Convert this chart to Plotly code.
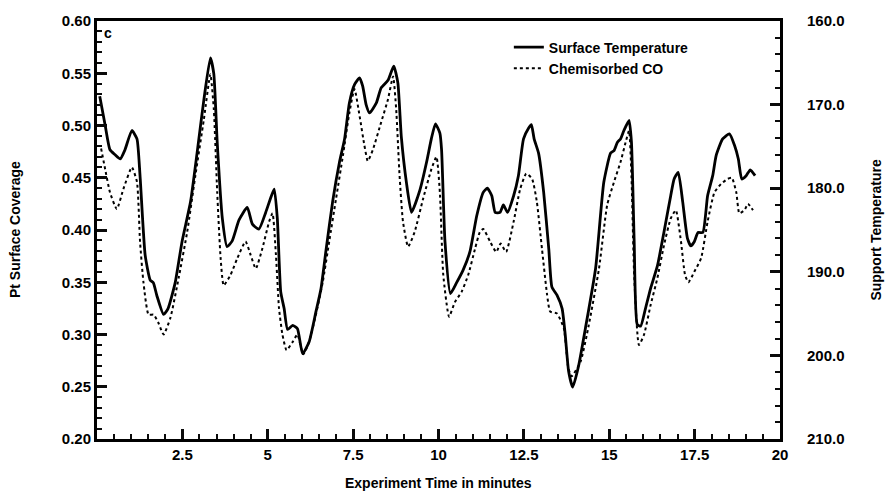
import plotly.graph_objects as go

# Time (minutes) for the surface temperature trace (solid, right axis)
t_temp = [0.08, 0.24, 0.38, 0.53, 0.68, 0.82, 1.02, 1.17, 1.26, 1.41, 1.56, 1.65, 1.75, 1.95, 2.08,
          2.29, 2.49, 2.74, 2.93, 3.13, 3.32, 3.42, 3.52, 3.67, 3.81, 3.96, 4.16, 4.40, 4.55, 4.74,
          4.94, 5.09, 5.19, 5.28, 5.38, 5.48, 5.58, 5.73, 5.87, 6.02, 6.21, 6.41, 6.56, 6.71, 6.90,
          7.10, 7.25, 7.39, 7.54, 7.69, 7.78, 7.88, 7.98, 8.18, 8.32, 8.52, 8.69, 8.81, 8.91, 9.06,
          9.21, 9.45, 9.65, 9.79, 9.91, 10.04, 10.09, 10.19, 10.35, 10.53, 10.72, 10.92, 11.12, 11.31,
          11.43, 11.56, 11.66, 11.80, 11.90, 12.02, 12.20, 12.34, 12.49, 12.64, 12.72, 12.80, 12.93,
          13.08, 13.23, 13.32, 13.47, 13.62, 13.71, 13.81, 13.93, 14.10, 14.30, 14.60, 14.84, 15.04,
          15.14, 15.24, 15.33, 15.43, 15.58, 15.65, 15.73, 15.82, 15.92, 16.06, 16.21, 16.41, 16.60,
          16.80, 16.90, 17.02, 17.15, 17.29, 17.39, 17.49, 17.60, 17.74, 17.88, 18.03, 18.13, 18.32,
          18.52, 18.67, 18.78, 18.88, 19.01, 19.13, 19.27]
surface_temperature = [169.0, 172.5, 175.4, 176.0, 176.5, 175.4, 173.1, 174.1, 178.5, 188.0, 191.0,
                       191.3, 192.8, 195.1, 194.4, 191.3, 186.4, 181.6, 175.8, 169.4, 164.4, 166.3,
                       174.5, 183.6, 187.0, 186.3, 183.8, 182.3, 184.3, 184.9, 182.9, 181.1, 180.1,
                       183.6, 192.4, 194.4, 196.9, 196.4, 196.8, 199.8, 198.4, 194.8, 192.0, 187.3,
                       181.6, 176.9, 174.1, 169.8, 167.6, 166.8, 167.8, 170.0, 171.0, 169.8, 168.0,
                       167.1, 165.4, 167.4, 173.8, 179.3, 182.9, 180.3, 176.9, 174.1, 172.3, 173.4,
                       175.4, 186.4, 192.6, 191.3, 189.8, 187.6, 183.3, 180.5, 180.0, 180.9, 182.9,
                       182.9, 182.0, 182.9, 180.9, 178.5, 174.1, 172.8, 172.4, 174.1, 175.8, 180.5,
                       187.3, 191.8, 192.8, 194.4, 197.5, 201.9, 203.8, 201.3, 196.8, 189.6, 179.3,
                       175.8, 175.5, 174.5, 174.1, 173.1, 171.9, 174.5, 186.4, 196.3, 196.5, 194.4,
                       192.0, 189.3, 185.3, 180.9, 178.9, 178.1, 181.6, 186.0, 186.9, 186.4, 185.3,
                       185.3, 180.9, 178.5, 176.1, 174.1, 173.5, 174.9, 176.5, 178.9, 178.5, 177.8,
                       178.5]

# Time (minutes) for the chemisorbed CO trace (dotted, left axis)
t_co = [0.12, 0.24, 0.38, 0.58, 0.77, 1.02, 1.17, 1.26, 1.36, 1.51, 1.66, 1.80, 1.95, 2.15, 2.39,
        2.64, 2.88, 3.13, 3.32, 3.42, 3.52, 3.62, 3.71, 3.91, 4.11, 4.35, 4.50, 4.65, 4.84, 5.04,
        5.14, 5.24, 5.33, 5.43, 5.55, 5.73, 5.87, 6.04, 6.21, 6.41, 6.61, 6.80, 7.00, 7.20, 7.39,
        7.54, 7.69, 7.83, 7.93, 8.08, 8.32, 8.52, 8.67, 8.76, 8.86, 8.96, 9.11, 9.30, 9.55, 9.79,
        9.94, 10.04, 10.14, 10.31, 10.48, 10.68, 10.87, 11.07, 11.21, 11.31, 11.51, 11.69, 11.82,
        11.98, 12.20, 12.39, 12.57, 12.74, 12.88, 13.03, 13.18, 13.27, 13.47, 13.67, 13.80, 13.90,
        14.16, 14.40, 14.70, 14.94, 15.14, 15.33, 15.48, 15.58, 15.65, 15.73, 15.87, 16.02, 16.21,
        16.41, 16.60, 16.80, 16.95, 17.10, 17.22, 17.32, 17.49, 17.69, 17.88, 18.08, 18.27, 18.47,
        18.59, 18.72, 18.81, 18.96, 19.06, 19.21]
chemisorbed_co = [0.478, 0.458, 0.436, 0.420, 0.439, 0.460, 0.446, 0.389, 0.350, 0.319, 0.319,
                  0.311, 0.300, 0.316, 0.354, 0.398, 0.452, 0.506, 0.549, 0.516, 0.436, 0.373,
                  0.347, 0.357, 0.373, 0.389, 0.376, 0.363, 0.382, 0.408, 0.416, 0.376, 0.325,
                  0.300, 0.285, 0.293, 0.300, 0.281, 0.293, 0.319, 0.350, 0.389, 0.430, 0.471,
                  0.512, 0.535, 0.509, 0.481, 0.466, 0.477, 0.503, 0.525, 0.547, 0.516, 0.452,
                  0.408, 0.384, 0.398, 0.430, 0.458, 0.470, 0.436, 0.357, 0.317, 0.331, 0.341,
                  0.357, 0.382, 0.398, 0.401, 0.389, 0.379, 0.387, 0.379, 0.408, 0.439, 0.454,
                  0.449, 0.427, 0.382, 0.338, 0.322, 0.320, 0.306, 0.268, 0.260, 0.274, 0.309,
                  0.363, 0.424, 0.446, 0.465, 0.484, 0.495, 0.452, 0.357, 0.290, 0.300, 0.328,
                  0.354, 0.385, 0.411, 0.419, 0.389, 0.357, 0.350, 0.360, 0.373, 0.408, 0.436,
                  0.444, 0.449, 0.450, 0.436, 0.416, 0.419, 0.425, 0.419]

x_ticks = [2.5, 5, 7.5, 10, 12.5, 15, 17.5, 20]
x_tick_labels = ["<b>2.5</b>", "<b>5</b>", "<b>7.5</b>", "<b>10</b>", "<b>12.5</b>",
                 "<b>15</b>", "<b>17.5</b>", "<b>20</b>"]
left_ticks = [0.20, 0.25, 0.30, 0.35, 0.40, 0.45, 0.50, 0.55, 0.60]
left_tick_labels = ["<b>0.20</b>", "<b>0.25</b>", "<b>0.30</b>", "<b>0.35</b>", "<b>0.40</b>",
                    "<b>0.45</b>", "<b>0.50</b>", "<b>0.55</b>", "<b>0.60</b>"]
right_ticks = [160, 170, 180, 190, 200, 210]
right_tick_labels = ["<b>160.0</b>", "<b>170.0</b>", "<b>180.0</b>", "<b>190.0</b>",
                     "<b>200.0</b>", "<b>210.0</b>"]

FONT = "Liberation Sans, Arial, sans-serif"
tickfont = dict(family=FONT, size=15, color="black")
TICK = "#0a0a0a"
CLEAR = "rgba(0,0,0,0)"

fig = go.Figure()
fig.add_trace(go.Scatter(
    x=t_temp, y=surface_temperature, yaxis="y2", mode="lines",
    name="<b>Surface Temperature</b>",
    line=dict(color="black", width=2.8, shape="spline", smoothing=0.5)))
fig.add_trace(go.Scatter(
    x=t_co, y=chemisorbed_co, yaxis="y", mode="lines",
    name="<b>Chemisorbed CO</b>",
    line=dict(color="black", width=2, dash="dot", shape="spline", smoothing=0.5)))

# empty traces so the minor-tick overlay axes are drawn
fig.add_trace(go.Scatter(x=[], y=[], xaxis="x3", yaxis="y", showlegend=False, hoverinfo="skip"))
fig.add_trace(go.Scatter(x=[], y=[], xaxis="x", yaxis="y3", showlegend=False, hoverinfo="skip"))
fig.add_trace(go.Scatter(x=[], y=[], xaxis="x", yaxis="y4", showlegend=False, hoverinfo="skip"))

minor_common = dict(ticks="inside", ticklen=5, tickwidth=2, tickcolor=TICK,
                    showticklabels=False, showline=False, gridcolor=CLEAR,
                    zeroline=False)

fig.update_layout(
    width=887, height=498,
    margin=dict(l=97, r=107, t=18, b=59),
    plot_bgcolor="white",
    showlegend=True,
    legend=dict(x=0.603, y=0.975, xanchor="left", yanchor="top",
                bgcolor="rgba(0,0,0,0)",
                font=dict(family=FONT, size=14, color="black")),
    xaxis=dict(range=[0, 20], tickmode="array", tickvals=x_ticks, ticktext=x_tick_labels,
               gridcolor="white", zerolinecolor="white",
               showline=True, linecolor="black", linewidth=3, mirror=True,
               ticks="inside", ticklen=10, tickwidth=3, tickcolor=TICK,
               tickfont=tickfont),
    yaxis=dict(range=[0.20, 0.60], tickmode="array", tickvals=left_ticks,
               ticktext=left_tick_labels,
               gridcolor="white", zerolinecolor="white",
               showline=True, linecolor="black", linewidth=3,
               ticks="inside", ticklen=10, tickwidth=3, tickcolor=TICK,
               tickfont=tickfont),
    yaxis2=dict(range=[210, 160], tickmode="array", tickvals=right_ticks,
                ticktext=right_tick_labels,
                overlaying="y", side="right", anchor="x",
                gridcolor=CLEAR, zerolinecolor=CLEAR,
                showline=True, linecolor="black", linewidth=3,
                ticks="inside", ticklen=10, tickwidth=3, tickcolor=TICK,
                tickfont=tickfont, ticklabelstandoff=21),
    xaxis3=dict(range=[0, 20], tickmode="linear", tick0=0, dtick=0.5,
                overlaying="x", anchor="y", side="bottom", **minor_common),
    yaxis3=dict(range=[0.20, 0.60], tickmode="linear", tick0=0.2, dtick=0.01,
                overlaying="y", anchor="x", side="left", **minor_common),
    yaxis4=dict(range=[210, 160], tickmode="linear", tick0=160, dtick=2,
                overlaying="y", anchor="x", side="right", **minor_common),
)

fig.add_annotation(text="<b>Pt Surface Coverage</b>", xref="paper", yref="paper",
                   x=-0.12, y=0.5, xanchor="center", yanchor="middle", textangle=-90,
                   showarrow=False, font=dict(family=FONT, size=14, color="black"))
fig.add_annotation(text="<b>Support Temperature</b>", xref="paper", yref="paper",
                   x=1.14, y=0.5, xanchor="center", yanchor="middle", textangle=-90,
                   showarrow=False, font=dict(family=FONT, size=14, color="black"))
fig.add_annotation(text="<b>Experiment Time in minutes</b>", xref="paper", yref="paper",
                   x=0.5, y=-0.1045, xanchor="center", yanchor="middle",
                   showarrow=False, font=dict(family=FONT, size=14, color="black"))
fig.add_annotation(text="<b>c</b>", xref="paper", yref="paper",
                   x=0.008, y=0.995, xanchor="left", yanchor="top",
                   showarrow=False, font=dict(family=FONT, size=14, color="black"))

fig.write_html("out.html")
